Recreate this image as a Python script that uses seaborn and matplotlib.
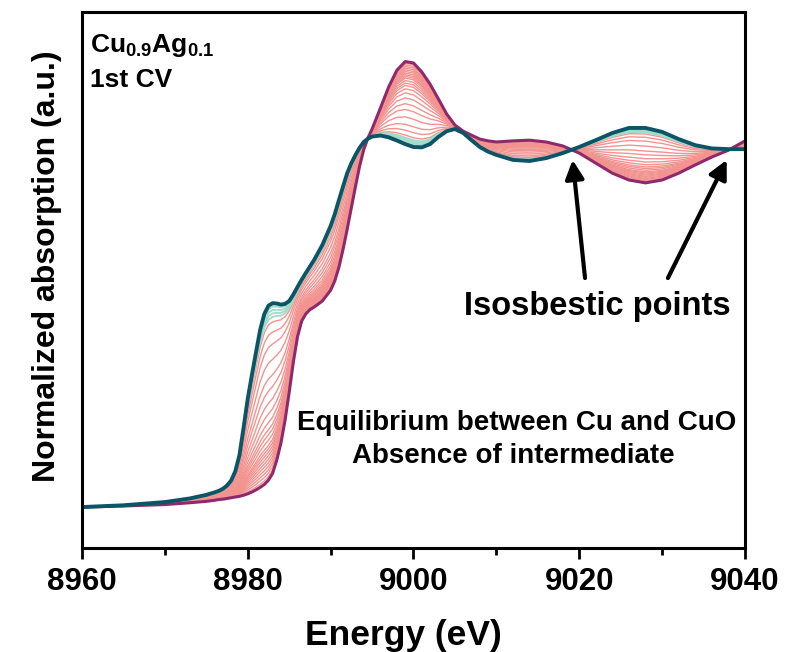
import numpy as np
import pandas as pd
import matplotlib
matplotlib.use("Agg")
import matplotlib.pyplot as plt
from matplotlib.ticker import MultipleLocator
import seaborn as sns

# ---------------- data ----------------
energy = [8960, 8965, 8970, 8973, 8975,
          8976, 8976.5, 8977, 8977.5, 8978, 8978.5, 8979, 8979.5, 8980, 8980.5,
          8981, 8981.5, 8982, 8982.5, 8983, 8983.5, 8984, 8984.5, 8985, 8985.5,
          8986, 8986.5, 8987, 8987.5, 8988, 8989, 8990,
          8990.5, 8991, 8991.5, 8992, 8992.5, 8993, 8993.5, 8994, 8994.5, 8995,
          8996, 8997, 8998, 8999, 9000, 9001, 9002, 9003, 9004, 9005,
          9006, 9007, 9008, 9009, 9010,
          9012, 9014, 9016, 9018, 9020, 9022, 9024, 9026, 9028, 9030,
          9032, 9034, 9036, 9038, 9040]

# metallic Cu end state (teal)
mu_cu = [0.000, 0.005, 0.014, 0.024, 0.034,
         0.041, 0.045, 0.051, 0.060, 0.074, 0.100, 0.145, 0.222, 0.302, 0.368,
         0.432, 0.494, 0.538, 0.561, 0.568, 0.567, 0.564, 0.566, 0.574, 0.592,
         0.613, 0.633, 0.652, 0.670, 0.688, 0.730, 0.783,
         0.816, 0.855, 0.893, 0.930, 0.958, 0.981, 1.001, 1.017, 1.026, 1.032,
         1.035, 1.030, 1.021, 1.011, 1.003, 1.002, 1.011, 1.031, 1.047, 1.053,
         1.042, 1.022, 1.003, 0.990, 0.981,
         0.967, 0.964, 0.972, 0.986, 1.003, 1.022, 1.042, 1.056, 1.056, 1.045,
         1.025, 1.008, 0.999, 0.997, 0.997]

# CuO start state (magenta)
mu_cuo = [0.000, 0.003, 0.007, 0.012, 0.016,
          0.019, 0.021, 0.022, 0.024, 0.026, 0.028, 0.030, 0.033, 0.037, 0.042,
          0.048, 0.055, 0.063, 0.075, 0.094, 0.131, 0.178, 0.242, 0.320, 0.404,
          0.474, 0.518, 0.538, 0.550, 0.557, 0.574, 0.604,
          0.630, 0.668, 0.718, 0.774, 0.834, 0.893, 0.950, 0.996, 1.028, 1.053,
          1.111, 1.170, 1.217, 1.241, 1.237, 1.212, 1.178, 1.137, 1.095, 1.064,
          1.047, 1.036, 1.025, 1.020, 1.017,
          1.020, 1.022, 1.017, 1.006, 0.986, 0.958, 0.930, 0.911, 0.903, 0.911,
          0.930, 0.953, 0.975, 0.994, 1.020]

# Cu fraction of the intermediate spectra recorded during the 1st CV
frac_pink = [0.02, 0.04, 0.06, 0.08, 0.10, 0.12, 0.14, 0.16, 0.18, 0.20,
             0.23, 0.26, 0.29, 0.33, 0.38, 0.44, 0.51, 0.58, 0.67, 0.76,
             0.83, 0.89]
frac_mint = [0.92, 0.94, 0.96, 0.98]

xticks = [8960, 8980, 9000, 9020, 9040]

# ---------------- style ----------------
sns.set_style("ticks")
plt.rcParams["font.family"] = ["Liberation Sans", "DejaVu Sans"]
plt.rcParams["font.weight"] = "bold"
plt.rcParams["axes.labelweight"] = "bold"
plt.rcParams["text.color"] = "black"
plt.rcParams["axes.labelcolor"] = "black"
plt.rcParams["xtick.color"] = "black"
plt.rcParams["ytick.color"] = "black"
plt.rcParams["axes.edgecolor"] = "black"
plt.rcParams["mathtext.fontset"] = "custom"
plt.rcParams["mathtext.rm"] = "Liberation Sans:bold"
plt.rcParams["mathtext.bf"] = "Liberation Sans:bold"
plt.rcParams["mathtext.default"] = "bf"

fig = plt.figure(figsize=(7.85, 6.52), dpi=100)
ax = fig.add_axes([0.1045, 0.1595, 0.8445, 0.8221])

E = np.array(energy, dtype=float)
A = np.array(mu_cuo)
B = np.array(mu_cu)

c_pink = "#F29390"
c_mint = "#A3DAC8"
c_mag = "#8E2A6B"
c_teal = "#0B5566"

for f in frac_pink:
    sns.lineplot(x=E, y=(1 - f) * A + f * B, color=c_pink, lw=1.0, ax=ax)
for f in frac_mint:
    sns.lineplot(x=E, y=(1 - f) * A + f * B, color=c_mint, lw=1.3, ax=ax)
sns.lineplot(x=E, y=A, color=c_mag, lw=2.2, ax=ax)
sns.lineplot(x=E, y=B, color=c_teal, lw=2.8, ax=ax)

ax.set_xlim(8960, 9040)
ax.set_ylim(-0.114, 1.379)
ax.set_xticks(xticks)
ax.set_xticklabels([str(t) for t in xticks])
ax.xaxis.set_minor_locator(MultipleLocator(10))
ax.set_yticks([])
ax.tick_params(axis="x", which="major", direction="out", length=8, width=2,
               labelsize=22.5, pad=6, colors="black")
ax.tick_params(axis="x", which="minor", direction="out", length=5, width=2,
               colors="black")
for lab in ax.get_xticklabels():
    lab.set_fontweight("bold")
for sp in ax.spines.values():
    sp.set_visible(True)
    sp.set_linewidth(2.2)
    sp.set_color("black")

ax.set_xlabel("Energy (eV)", fontsize=25.5, fontweight="bold", color="black")
ax.set_ylabel("Normalized absorption (a.u.)", fontsize=23, fontweight="bold",
              color="black")
ax.xaxis.set_label_coords(0.484, -0.132)
ax.yaxis.set_label_coords(-0.030, 0.526)

ax.text(0.012, 0.938, r"Cu$_{0.9}$Ag$_{0.1}$", transform=ax.transAxes,
        fontsize=19, fontweight="bold", ha="left", va="center", color="black")
ax.text(0.012, 0.874, "1st CV", transform=ax.transAxes,
        fontsize=19, fontweight="bold", ha="left", va="center", color="black")

ax.text(0.777, 0.450, "Isosbestic points", transform=ax.transAxes,
        fontsize=23.5, fontweight="bold", ha="center", va="center", color="black")
ax.text(0.656, 0.2332, "Equilibrium between Cu and CuO", transform=ax.transAxes,
        fontsize=20, fontweight="bold", ha="center", va="center", color="black")
ax.text(0.650, 0.1716, "Absence of intermediate", transform=ax.transAxes,
        fontsize=20, fontweight="bold", ha="center", va="center", color="black")

arrow = dict(arrowstyle="-|>", lw=3, color="black", mutation_scale=28,
             shrinkA=0, shrinkB=0)
ax.annotate("", xy=(9019.2, 0.967), xytext=(9020.7, 0.638), arrowprops=arrow)
ax.annotate("", xy=(9037.8, 0.967), xytext=(9030.7, 0.638), arrowprops=arrow)

fig.savefig("out.png", dpi=100)
